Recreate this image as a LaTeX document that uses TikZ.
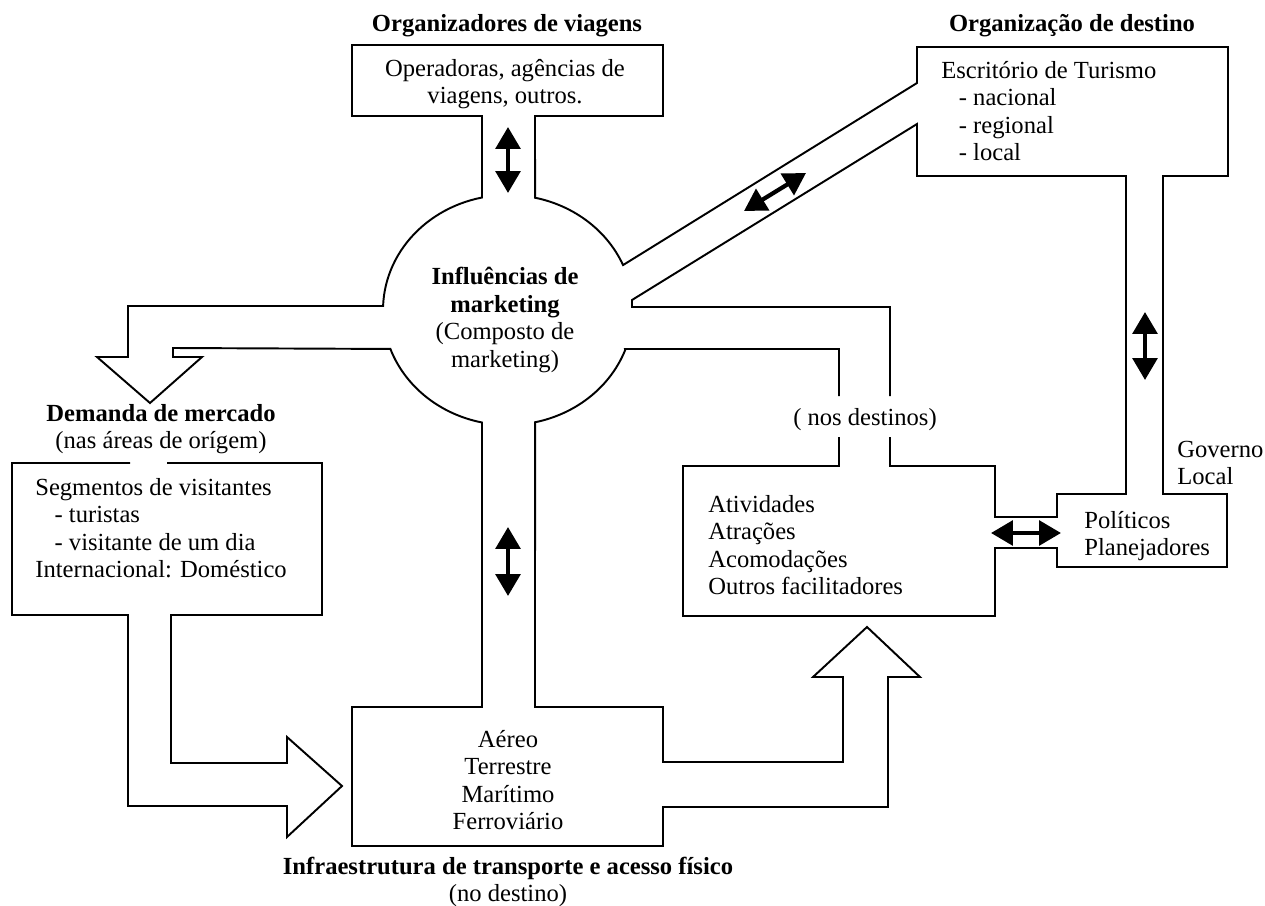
\documentclass[tikz,border=0pt]{standalone}
\usepackage{fontspec}
\setmainfont{Liberation Serif}
\usetikzlibrary{arrows.meta}
\begin{document}
\begin{tikzpicture}[x=0.02cm,y=-0.02cm,
  outline/.style={line width=1.1pt, line join=miter},
  txt/.style={inner sep=0pt, font=\fontsize{14}{15.6}\selectfont},
  ttl/.style={inner sep=0pt, font=\fontsize{14}{15.6}\selectfont\bfseries},
  dbl/.style={line width=2.4pt, {Triangle[length=12.5pt,width=14pt]}-{Triangle[length=12.5pt,width=14pt]}}]
\fill[white] (0,0) rectangle (1265,906);
\useasboundingbox (0,0) rectangle (1265,906);

% ring of marketing influences (slightly oval) joined to all channels
\draw[outline] (839,396) -- (839,349) -- (625,349)
  -- plot[domain=-20.4:-77.5,samples=30] ({508+125*cos(\x)},{310-115*sin(\x)})
  -- (535,707) -- (663,707) -- (663,762) -- (843,762) -- (843,677) -- (813,677)
  -- (867,627) -- (920,677) -- (888,677) -- (888,807) -- (663,807) -- (663,846)
  -- (352,846) -- (352,707) -- (482,707)
  -- plot[domain=258:199.8,samples=30] ({508+125*cos(\x)},{310-115*sin(\x)})
  -- (173,348) -- (173,357) -- (202,357) -- (150,403) -- (97,357) -- (128,357)
  -- (128,306)
  -- plot[domain=178:102,samples=30] ({508+125*cos(\x)},{310-115*sin(\x)})
  -- (482,116) -- (352,116) -- (352,45) -- (663,45) -- (663,116) -- (535,116)
  -- plot[domain=77.5:23,samples=30] ({508+125*cos(\x)},{310-115*sin(\x)})
  -- (917,83) -- (917,47) -- (1228,47) -- (1228,176) -- (1163,176) -- (1163,494)
  -- (1227,494) -- (1227,567) -- (1057,567) -- (1057,548) -- (995,548)
  -- (995,616) -- (683,616) -- (683,466) -- (839,466) -- (839,437);

% diagonal channel, tourism office and politicians box
\draw[outline] (890,396) -- (890,307) -- (632,307) -- (632,300) -- (917,124)
  -- (917,176) -- (1126,176) -- (1126,494) -- (1057,494) -- (1057,517)
  -- (995,517) -- (995,466) -- (890,466) -- (890,437);

% market demand box with its arrow to transport
\draw[outline] (167,463) -- (322,463) -- (322,615) -- (171,615) -- (171,763)
  -- (287,763) -- (287,737) -- (342,786) -- (287,837) -- (287,806) -- (128,806)
  -- (128,615) -- (12,615) -- (12,463) -- (130,463);

% texts
\node[ttl] (orgv) at (507,26) {Organizadores de viagens};
\node[txt, align=center] (oper) at (505,84) {Operadoras, agências de\\viagens, outros.};
\node[txt, align=center] (mkt) at (505,320) {\textbf{Influências de}\\\textbf{marketing}\\(Composto de\\marketing)};
\node[ttl] (orgd) at (1072,26) {Organização de destino};
\node[txt, align=left, anchor=west] (escr) at (941,111) {Escritório de Turismo\\\hspace*{10pt}- nacional\\\hspace*{10pt}- regional\\\hspace*{10pt}- local};
\node[txt, align=center] (dem) at (161,429) {\textbf{Demanda de mercado}\\(nas áreas de orígem)};
\node[txt, align=left, anchor=west] (seg) at (35,528) {Segmentos de visitantes\\\hspace*{11pt}- turistas\\\hspace*{11pt}- visitante de um dia\\Internacional: Doméstico};
\node[txt, align=center] (transp) at (508,780) {Aéreo\\Terrestre\\Marítimo\\Ferroviário};
\node[txt, align=center] (infra) at (508,882) {\textbf{Infraestrutura de transporte e acesso físico}\\(no destino)};
\node[txt] (nos) at (865,420) {( nos destinos)};
\node[txt, align=left, anchor=west] (ativ) at (708,545) {Atividades\\Atrações\\Acomodações\\Outros facilitadores};
\node[txt, align=left, anchor=west] (pol) at (1084,536) {Políticos\\Planejadores};
\node[txt, align=left, anchor=west] (gov) at (1177,463) {Governo\\Local};

% two-way influence arrows
\coordinate (a1s) at (508,127); \coordinate (a1e) at (508,193);
\coordinate (a2s) at (508,527); \coordinate (a2e) at (508,596);
\coordinate (a3s) at (744,211); \coordinate (a3e) at (806,173);
\coordinate (a4s) at (1145,312); \coordinate (a4e) at (1145,380);
\coordinate (a5s) at (991,533); \coordinate (a5e) at (1061,533);
\draw[dbl] (a1s) -- (a1e);
\draw[dbl] (a2s) -- (a2e);
\draw[dbl] (a3s) -- (a3e);
\draw[dbl] (a4s) -- (a4e);
\draw[dbl] (a5s) -- (a5e);
\end{tikzpicture}
\end{document}
